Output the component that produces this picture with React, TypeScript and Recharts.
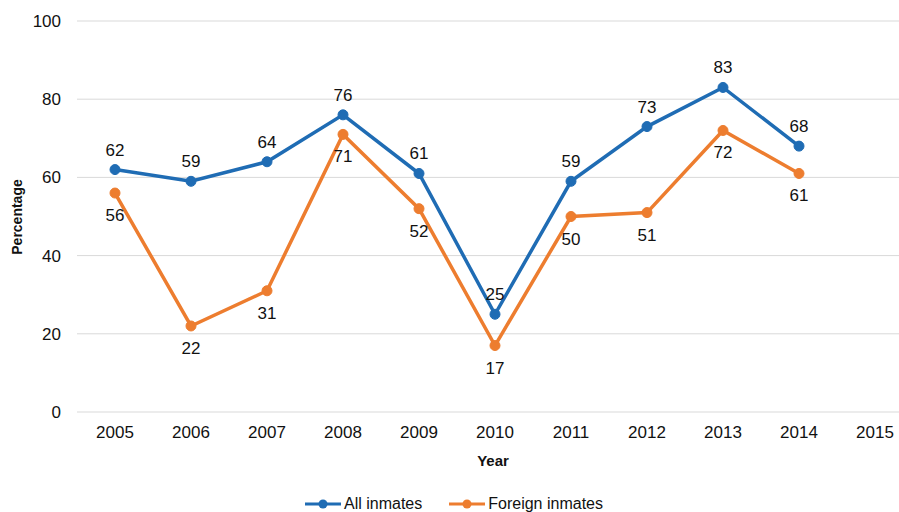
import React from 'react';
import { LineChart, Line, XAxis, YAxis, CartesianGrid, LabelList } from 'recharts';

const years = ['2005', '2006', '2007', '2008', '2009', '2010', '2011', '2012', '2013', '2014', '2015'];
const allInmates = [62, 59, 64, 76, 61, 25, 59, 73, 83, 68, null];
const foreignInmates = [56, 22, 31, 71, 52, 17, 50, 51, 72, 61, null];
const yTicks = [0, 20, 40, 60, 80, 100];

const BLUE = '#1f6cb4';
const ORANGE = '#ed7d2f';
const FONT = '"Liberation Sans", Arial, sans-serif';

const rows = years.map((y, i) => ({ year: y, all: allInmates[i], foreign: foreignInmates[i] }));

const makeLabel = (dy: number) => (props: any) => {
  const { x, y, value } = props;
  if (value == null) return null;
  return (
    <text x={x} y={y + dy} textAnchor="middle" fontSize={17} fontFamily={FONT} fill="#111">
      {value}
    </text>
  );
};

const LegendItem = ({ color, text }: { color: string; text: string }) => (
  <div style={{ display: 'flex', alignItems: 'center', marginRight: 26 }}>
    <svg width={38} height={12} style={{ marginRight: 2 }}>
      <line x1={1} y1={6} x2={37} y2={6} stroke={color} strokeWidth={3} />
      <circle cx={19} cy={6} r={4.5} fill={color} />
    </svg>
    <span>{text}</span>
  </div>
);

export default function App() {
  return (
    <div style={{ position: 'absolute', left: 0, top: 0, width: 899, height: 512, overflow: 'hidden', background: '#fff' }}>
      <LineChart width={925} height={512} data={rows} margin={{ top: 21, right: 12, bottom: 0, left: 0 }}>
        <CartesianGrid vertical={false} stroke="#d9d9d9" strokeWidth={1} />
        <XAxis
          dataKey="year"
          axisLine={false}
          tickLine={false}
          tickSize={0}
          tickMargin={14}
          height={100}
          padding={{ left: 38, right: 38 }}
          tick={{ fontSize: 17, fill: '#111', fontFamily: FONT }}
          label={(p: any) => {
            const vb = p.viewBox;
            return (
              <text x={vb.x + vb.width / 2 - 2} y={466} textAnchor="middle" fontSize={15} fontWeight="bold" fontFamily={FONT} fill="#111">
                Year
              </text>
            );
          }}
        />
        <YAxis
          domain={[0, 100]}
          ticks={yTicks}
          axisLine={false}
          tickLine={false}
          tickSize={0}
          tickMargin={16}
          width={77}
          tick={{ fontSize: 17, fill: '#111', fontFamily: FONT }}
          label={() => (
            <text
              x={22}
              y={217}
              transform="rotate(-90 22 217)"
              textAnchor="middle"
              fontSize={14}
              fontWeight="bold"
              fontFamily={FONT}
              fill="#111"
            >
              Percentage
            </text>
          )}
        />
        <Line
          type="linear"
          dataKey="all"
          stroke={BLUE}
          strokeWidth={3.5}
          dot={{ r: 5, fill: BLUE, stroke: BLUE, strokeWidth: 1 }}
          isAnimationActive={false}
        >
          <LabelList dataKey="all" content={makeLabel(-14)} />
        </Line>
        <Line
          type="linear"
          dataKey="foreign"
          stroke={ORANGE}
          strokeWidth={3.5}
          dot={{ r: 5, fill: ORANGE, stroke: ORANGE, strokeWidth: 1 }}
          isAnimationActive={false}
        >
          <LabelList dataKey="foreign" content={makeLabel(28)} />
        </Line>
      </LineChart>
      <div
        style={{
          position: 'absolute',
          top: 494,
          left: 304,
          display: 'flex',
          fontFamily: FONT,
          fontSize: 16,
          color: '#111',
          lineHeight: '20px',
        }}
      >
        <LegendItem color={BLUE} text="All inmates" />
        <LegendItem color={ORANGE} text="Foreign inmates" />
      </div>
    </div>
  );
}
